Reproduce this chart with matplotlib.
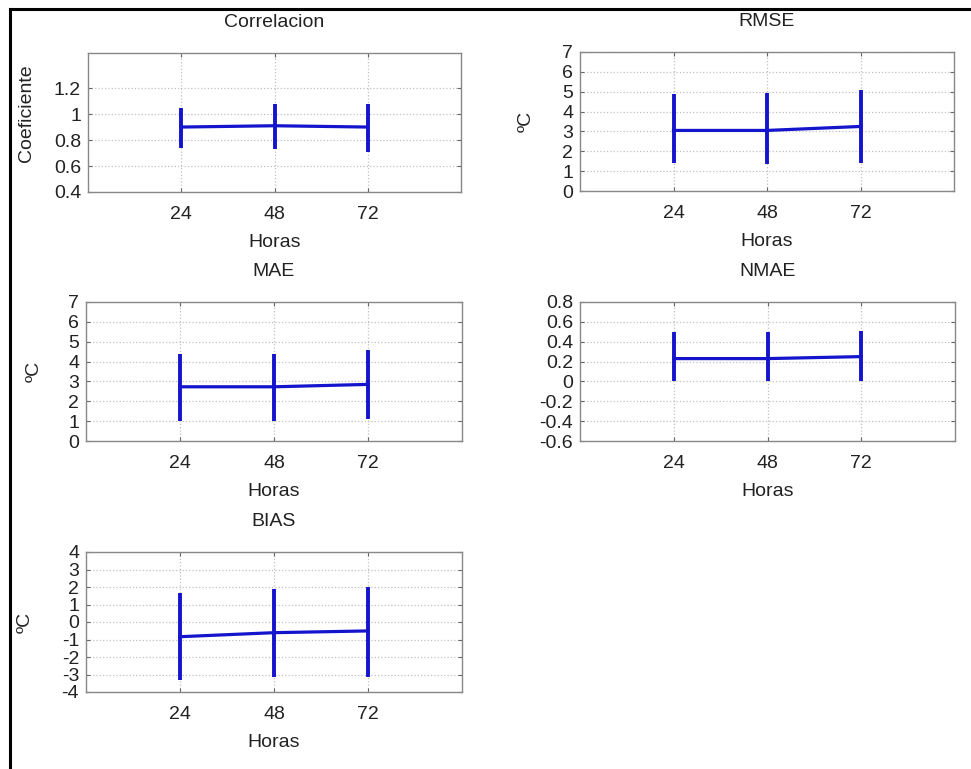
import matplotlib
matplotlib.use("Agg")
import matplotlib.pyplot as plt
from matplotlib.lines import Line2D
import numpy as np

plt.rcParams['font.family'] = ['Liberation Sans', 'DejaVu Sans']

horas = [24, 48, 72]
xticks = [24, 48, 72]

titles = ["Correlacion", "RMSE", "MAE", "NMAE", "BIAS"]
ylabels = ["Coeficiente", "ºC", "ºC", "", "ºC"]

corr_mean = [0.90, 0.91, 0.90]
corr_low = [0.74, 0.73, 0.71]
corr_high = [1.05, 1.08, 1.08]

rmse_mean = [3.05, 3.05, 3.25]
rmse_low = [1.40, 1.35, 1.42]
rmse_high = [4.87, 4.93, 5.10]

mae_mean = [2.73, 2.73, 2.85]
mae_low = [1.00, 1.00, 1.10]
mae_high = [4.36, 4.40, 4.58]

nmae_mean = [0.23, 0.23, 0.25]
nmae_low = [0.00, 0.00, 0.00]
nmae_high = [0.50, 0.50, 0.51]

bias_mean = [-0.84, -0.61, -0.51]
bias_low = [-3.31, -3.12, -3.12]
bias_high = [1.64, 1.87, 2.02]

corr_yticks = [0.4, 0.6, 0.8, 1.0, 1.2]
rmse_yticks = [0, 1, 2, 3, 4, 5, 6, 7]
mae_yticks = [0, 1, 2, 3, 4, 5, 6, 7]
nmae_yticks = [-0.6, -0.4, -0.2, 0, 0.2, 0.4, 0.6, 0.8]
bias_yticks = [-4, -3, -2, -1, 0, 1, 2, 3, 4]

corr_ylim = (0.4, 1.47)
rmse_ylim = (0, 7)
mae_ylim = (0, 7)
nmae_ylim = (-0.6, 0.8)
bias_ylim = (-4, 4)

W, H = 971, 769
fig = plt.figure(figsize=(W / 100, H / 100), dpi=100)
fig.patch.set_facecolor('white')

# panel boxes in pixels: left, right, top, bottom
boxes = [
    (88, 461, 53, 192),
    (580, 954, 52, 191),
    (86, 462, 302, 441),
    (580, 955, 302, 441),
    (86, 462, 552, 692),
]
label_x = [-0.142, -0.12, -0.115, None, -0.14]

series = [
    (corr_mean, corr_low, corr_high, corr_yticks, corr_ylim),
    (rmse_mean, rmse_low, rmse_high, rmse_yticks, rmse_ylim),
    (mae_mean, mae_low, mae_high, mae_yticks, mae_ylim),
    (nmae_mean, nmae_low, nmae_high, nmae_yticks, nmae_ylim),
    (bias_mean, bias_low, bias_high, bias_yticks, bias_ylim),
]

blue = '#1414cc'
txt = '#222222'
fs = 14

for i, (box, (m, lo, hi, yt, yl)) in enumerate(zip(boxes, series)):
    l, r, t, b = box
    ax = fig.add_axes([l / W, 1 - b / H, (r - l) / W, (b - t) / H])
    m = np.array(m); lo = np.array(lo); hi = np.array(hi)
    ax.errorbar(horas, m, yerr=[m - lo, hi - m], color=blue, lw=2.3,
                elinewidth=2.8, capsize=0)
    ax.set_xlim(0, 96)
    ax.set_ylim(*yl)
    ax.set_xticks(xticks)
    ax.set_xticklabels([str(v) for v in xticks])
    ax.set_yticks(yt)
    ax.set_yticklabels([f"{v:g}" for v in yt])
    ax.grid(True, color='#c0c0c0', linestyle=':', linewidth=0.9)
    ax.set_axisbelow(True)
    ax.tick_params(direction='in', length=3, width=0.8, top=True, right=True,
                   colors='#666666', labelcolor=txt, labelsize=fs)
    ax.tick_params(axis='x', pad=10)
    ax.tick_params(axis='y', pad=5)
    for s in ax.spines.values():
        s.set_color('#888888')
        s.set_linewidth(1.0)
    ax.set_title(titles[i], fontsize=fs, color=txt, pad=19)
    ax.set_xlabel("Horas", fontsize=fs, color=txt, labelpad=8)
    if ylabels[i]:
        ax.set_ylabel(ylabels[i], fontsize=fs, color=txt)
        ax.yaxis.set_label_coords(label_x[i], 0.57 if i == 0 else 0.5)

# figure border (left and top only)
fig.add_artist(Line2D([10 / W, 10 / W], [0, 1 - 9 / H], transform=fig.transFigure,
                      color='black', lw=2.2))
fig.add_artist(Line2D([10 / W, 1], [1 - 9 / H, 1 - 9 / H], transform=fig.transFigure,
                      color='black', lw=2.2))

fig.savefig("out.png", dpi=100, facecolor='white')
